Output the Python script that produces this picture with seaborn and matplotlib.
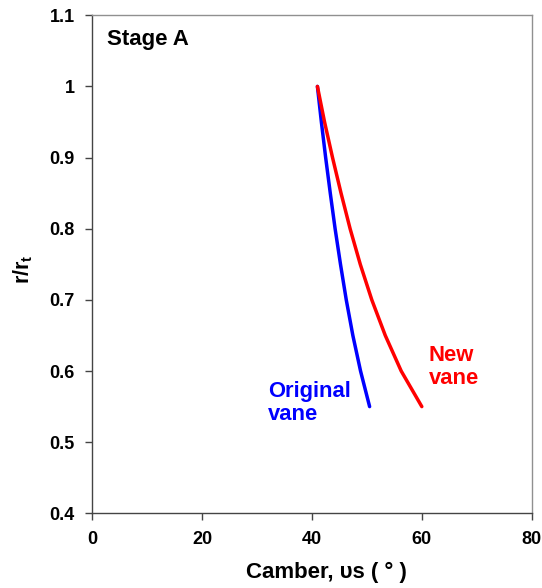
import matplotlib
matplotlib.use("Agg")
import matplotlib.pyplot as plt
import seaborn as sns
import pandas as pd

# radius ratio and camber values
r_ratio = [1.0, 0.95, 0.9, 0.85, 0.8, 0.75, 0.7, 0.65, 0.6, 0.55]
camber_original = [41.0, 41.72, 42.5, 43.34, 44.22, 45.2, 46.25, 47.45, 48.85, 50.5]
camber_new = [41.0, 42.3, 43.75, 45.3, 46.95, 48.8, 50.9, 53.35, 56.25, 60.0]

df = pd.DataFrame({
    "r": r_ratio * 2,
    "camber": camber_original + camber_new,
    "vane": ["Original vane"] * len(r_ratio) + ["New vane"] * len(r_ratio),
})

sns.set_style("ticks")
plt.rcParams["font.family"] = ["Liberation Sans", "DejaVu Sans"]
plt.rcParams["font.weight"] = "bold"
plt.rcParams["text.color"] = "black"
plt.rcParams["axes.labelcolor"] = "black"
plt.rcParams["xtick.labelcolor"] = "black"
plt.rcParams["ytick.labelcolor"] = "black"

fig = plt.figure(figsize=(5.42, 5.88), dpi=100)
ax = fig.add_axes([0.170, 0.127, 0.811, 0.847])

sns.lineplot(data=df, x="camber", y="r", hue="vane", sort=False,
             palette={"Original vane": "#0000ff", "New vane": "#ff0000"},
             linewidth=2.5, legend=False, ax=ax, solid_capstyle="round")

ax.set_xlim(0, 80)
ax.set_ylim(0.4, 1.1)
ax.set_xticks([0, 20, 40, 60, 80])
ax.set_yticks([0.4, 0.5, 0.6, 0.7, 0.8, 0.9, 1.0, 1.1])
ax.set_yticklabels(["0.4", "0.5", "0.6", "0.7", "0.8", "0.9", "1", "1.1"])
ax.tick_params(labelsize=13, length=5, width=1, color="#444444", pad=7.5)
for lab in ax.get_xticklabels() + ax.get_yticklabels():
    lab.set_fontweight("bold")
for s in ax.spines.values():
    s.set_visible(True)
    s.set_color("#909090")
    s.set_linewidth(1)
ax.spines["left"].set_color("#444444")
ax.spines["bottom"].set_color("#444444")

ax.set_xlabel("Camber, υs ( ° )", fontsize=16, fontweight="bold")
ax.xaxis.set_label_coords(0.532, -0.098)
ax.set_ylabel(r"r/r$_\mathregular{t}$", fontsize=15.5, fontweight="bold")
ax.yaxis.set_label_coords(-0.13, 0.49)

ax.text(2.7, 1.066, "Stage A", fontsize=16, fontweight="bold", va="center")
ax.text(32, 0.555, "Original\nvane", color="#0000ff", fontsize=15.8,
        fontweight="bold", va="center", linespacing=1.12)
ax.text(61.3, 0.606, "New\nvane", color="#ff0000", fontsize=15.8,
        fontweight="bold", va="center", linespacing=1.12)

fig.savefig("out.png", dpi=100)
